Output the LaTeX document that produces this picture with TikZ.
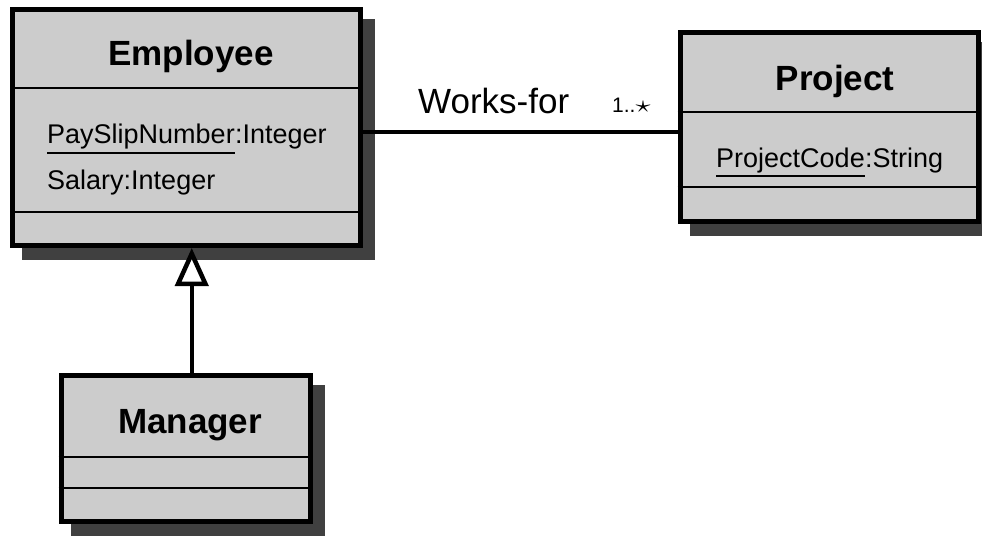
\documentclass[tikz,border=0pt]{standalone}
\usepackage{graphicx}
\usepackage{fontspec}
\setmainfont{Liberation Sans}
\usetikzlibrary{arrows.meta, backgrounds}
\definecolor{boxgray}{RGB}{204,204,204}
\definecolor{shadowgray}{RGB}{64,64,64}

\begin{document}
\begin{tikzpicture}[x=1pt, y=-1pt,
  classbox/.style = {draw, line width=5pt, fill=boxgray, inner sep=0pt},
  classname/.style = {anchor=base, inner sep=0pt, font=\fontsize{35}{42}\selectfont\bfseries},
  attr/.style = {anchor=base west, inner sep=0pt, font=\fontsize{27}{32}\selectfont},
  sepline/.style = {line width=2pt},
  uline/.style = {line width=2pt}]
\useasboundingbox (0,0) rectangle (982,536);
% class boxes
\node[classbox, minimum width=347.5pt, minimum height=236pt] (emp) at (186.25,127.5) {};
\node[classbox, minimum width=298pt, minimum height=189.5pt] (proj) at (829,126.75) {};
\node[classbox, minimum width=249.5pt, minimum height=146pt] (mgr) at (185.75,448.5) {};
\begin{scope}[on background layer]
\foreach \c in {emp, proj, mgr}
  \fill[shadowgray] ([shift={(12pt,-12pt)}]\c.north west) rectangle ([shift={(12pt,-12pt)}]\c.south east);
\end{scope}
% compartments
\draw[sepline] (emp.west |- 0,88) -- (emp.east |- 0,88);
\draw[sepline] (emp.west |- 0,212) -- (emp.east |- 0,212);
\draw[sepline] (proj.west |- 0,112) -- (proj.east |- 0,112);
\draw[sepline] (proj.west |- 0,187) -- (proj.east |- 0,187);
\draw[sepline] (mgr.west |- 0,457) -- (mgr.east |- 0,457);
\draw[sepline] (mgr.west |- 0,488) -- (mgr.east |- 0,488);
% names and attributes
\node[classname] (empname) at (191,65) {Employee};
\node[classname] (projname) at (835,90) {Project};
\node[classname] (mgrname) at (190,433) {Manager};
\node[attr] (psn) at (47,143) {PaySlipNumber};
\node[attr] (psntype) at (psn.base east) {:Integer};
\draw[uline] ([yshift=-10pt]psn.base west) -- ([yshift=-10pt]psn.base east);
\node[attr] (salary) at (47,189) {Salary:Integer};
\node[attr] (pcode) at (716,167) {ProjectCode};
\node[attr] (pcodetype) at (pcode.base east) {:String};
\draw[uline] ([yshift=-9pt]pcode.base west) -- ([yshift=-9pt]pcode.base east);
% association
\draw[line width=4pt] (emp.east |- 0,132) -- (proj.west |- 0,132);
\node[anchor=base west, inner sep=0pt, font=\fontsize{35}{42}\selectfont] (worksfor) at (418,113) {Works-for};
\node[anchor=base west, inner sep=0pt, font=\fontsize{21}{25}\selectfont] (mult) at (612,112) {1..{\normalsize\scalebox{3}[2.4]{$\star$}}};
% generalization
\coordinate (gen) at ([xshift=6pt]mgr.north);
\draw[line width=4.5pt, -{Triangle[length=38pt, width=33pt, fill=white]}] (gen) -- (gen |- emp.south);
\end{tikzpicture}
\end{document}
